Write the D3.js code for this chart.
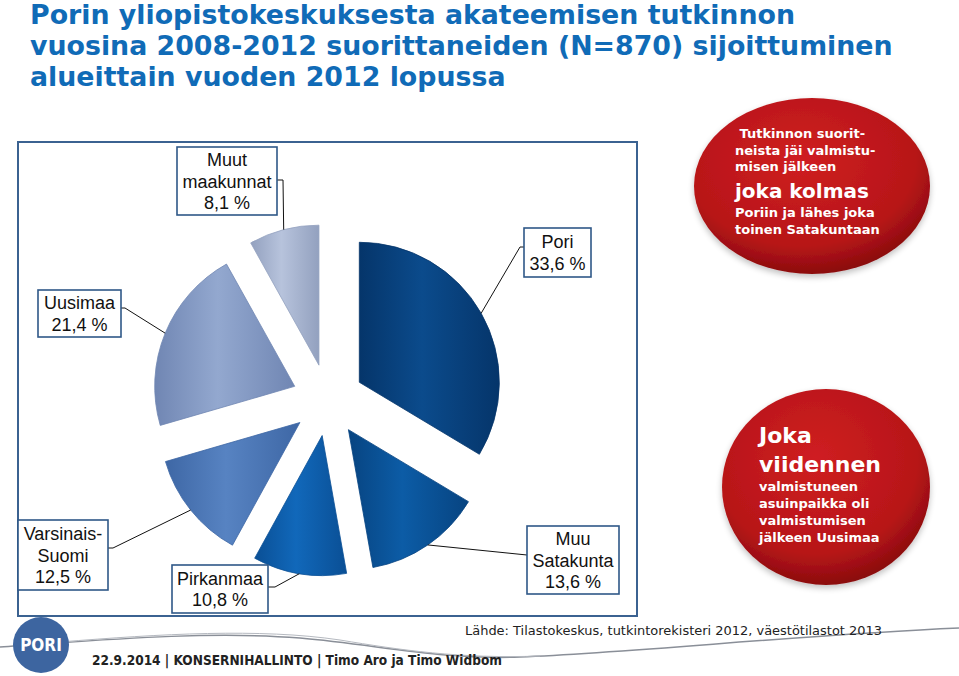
<!DOCTYPE html>
<html><head><meta charset="utf-8">
<script src="https://cdn.jsdelivr.net/npm/d3@7"></script>
<style>body{margin:0;background:#fff;overflow:hidden}</style>
</head><body><svg id="c" width="959" height="676"></svg>
<script>
// ---- data ----
const categories = ["Pori", "Muu Satakunta", "Pirkanmaa", "Varsinais-Suomi", "Uusimaa", "Muut maakunnat"];
const values = [33.6, 13.6, 10.8, 12.5, 21.4, 8.1];
const nameLines = [["Pori"], ["Muu", "Satakunta"], ["Pirkanmaa"], ["Varsinais-", "Suomi"], ["Uusimaa"], ["Muut", "maakunnat"]];
const titleLines = ["Porin yliopistokeskuksesta akateemisen tutkinnon",
  "vuosina 2008-2012 suorittaneiden (N=870) sijoittuminen",
  "alueittain vuoden 2012 lopussa"];
const bubble1 = [" Tutkinnon suorit-", "neista jäi valmistu-", "misen jälkeen", "joka kolmas", "Poriin ja lähes joka", "toinen Satakuntaan"];
const bubble2 = ["Joka", "viidennen", "valmistuneen", "asuinpaikka oli", "valmistumisen", "jälkeen Uusimaa"];
const sourceText = "Lähde: Tilastokeskus, tutkintorekisteri 2012, väestötilastot 2013";
const footerText = "22.9.2014 | KONSERNIHALLINTO | Timo Aro ja Timo Widbom";

// ---- styles / layout ----
const sliceColors = [["#05356a", "#0b4b8c"], ["#074481", "#0c5ca6"], ["#0a4f95", "#1168ba"],
  ["#3e67a5", "#5783c2"], ["#7086b3", "#93a8cf"], ["#93a1bf", "#b7c3dc"]];
const labelBoxes = [
  {x: 524, y: 228, w: 67, h: 49, via: [520, 247], end: [524, 247]},
  {x: 527, y: 526, w: 92, h: 68, via: [527, 555], end: [527, 555]},
  {x: 172, y: 565, w: 96, h: 48, via: [275, 587], end: [268, 587]},
  {x: 18, y: 520, w: 90, h: 70, via: [113, 548], end: [108, 548]},
  {x: 38, y: 290, w: 83, h: 47, via: [125, 308], end: [121, 308]},
  {x: 177, y: 147, w: 100, h: 68, via: [283, 180], end: [277, 180]}
];
const fmt = v => d3.format(".1f")(v).replace(".", ",") + " %";

const svg = d3.select("#c");
const defs = svg.append("defs");

// title
const title = svg.append("g").attr("font-family", "DejaVu Sans, Verdana, sans-serif")
  .attr("font-weight", "bold").attr("fill", "#106bb7");
const tt = title.selectAll("text").data(titleLines).join("text")
  .attr("x", 30).attr("y", (d, i) => 24 + i * 31).attr("font-size", 26).text(d => d);
const w0 = tt.nodes()[1].getComputedTextLength();
const fs = 26 * (893 - 30) / w0;
tt.attr("font-size", fs);

// chart frame
svg.append("rect").attr("x", 18).attr("y", 142).attr("width", 619).attr("height", 474)
  .attr("fill", "none").attr("stroke", "#3b6291").attr("stroke-width", 2);

// pie
const cx = 328, cy = 400, R = 140, explode = 36;
const pie = d3.pie().sort(null).value(d => d);
const arcs = pie(values);
const arc = d3.arc().innerRadius(0).outerRadius(R);
const outerPt = d3.arc().innerRadius(R).outerRadius(R);

arcs.forEach((a, i) => {
  const g = defs.append("linearGradient").attr("id", "g" + i).attr("x1", 0).attr("x2", 1).attr("y1", 0).attr("y2", 0);
  g.append("stop").attr("offset", 0).attr("stop-color", sliceColors[i][0]);
  g.append("stop").attr("offset", 0.45).attr("stop-color", sliceColors[i][1]);
  g.append("stop").attr("offset", 1).attr("stop-color", sliceColors[i][0]);
});

const off = a => { const m = (a.startAngle + a.endAngle) / 2; return [Math.sin(m) * explode, -Math.cos(m) * explode]; };
const pg = svg.append("g").attr("transform", `translate(${cx},${cy})`);
pg.selectAll("path").data(arcs).join("path")
  .attr("transform", d => `translate(${off(d)})`)
  .attr("d", arc)
  .attr("fill", (d, i) => `url(#g${i})`)
  .attr("stroke", (d, i) => sliceColors[i][0]).attr("stroke-width", 0.8);

// leader lines and label boxes
const lab = svg.append("g");
arcs.forEach((a, i) => {
  const o = off(a), c = outerPt.centroid(a);
  const p = [cx + o[0] + c[0], cy + o[1] + c[1]];
  const b = labelBoxes[i];
  lab.append("polyline").attr("points", [p, b.via, b.end].map(q => q.join(",")).join(" "))
    .attr("fill", "none").attr("stroke", "#111").attr("stroke-width", 1);
  lab.append("rect").attr("x", b.x).attr("y", b.y).attr("width", b.w).attr("height", b.h)
    .attr("fill", "#fff").attr("stroke", "#2f5888").attr("stroke-width", 1.6);
  const lines = nameLines[i].concat([fmt(values[i])]);
  const t = lab.append("text").attr("font-family", "Liberation Sans, Arial, sans-serif")
    .attr("font-size", 18).attr("fill", "#111").attr("text-anchor", "middle");
  const lh = 21.5, top = b.y + b.h / 2 - (lines.length - 1) * lh / 2 + 6.5;
  lines.forEach((l, k) => t.append("tspan").attr("x", b.x + b.w / 2).attr("y", top + k * lh).text(l));
});

// red bubbles
const rg = defs.append("radialGradient").attr("id", "red").attr("cx", 0.45).attr("cy", 0.35).attr("r", 0.7);
rg.append("stop").attr("offset", 0).attr("stop-color", "#cf1f21");
rg.append("stop").attr("offset", 0.7).attr("stop-color", "#b71518");
rg.append("stop").attr("offset", 1).attr("stop-color", "#7e090b");
const sh = defs.append("filter").attr("id", "sh").attr("x", -0.2).attr("y", -0.2).attr("width", 1.4).attr("height", 1.5);
sh.append("feGaussianBlur").attr("in", "SourceAlpha").attr("stdDeviation", 3);
sh.append("feOffset").attr("dy", 3).attr("result", "b");
sh.append("feComponentTransfer").append("feFuncA").attr("type", "linear").attr("slope", 0.25);
const mg = sh.append("feMerge"); mg.append("feMergeNode"); mg.append("feMergeNode").attr("in", "SourceGraphic");

svg.append("ellipse").attr("cx", 812).attr("cy", 186).attr("rx", 118).attr("ry", 88)
  .attr("fill", "url(#red)").attr("filter", "url(#sh)");
svg.append("ellipse").attr("cx", 826).attr("cy", 487).attr("rx", 104).attr("ry", 98)
  .attr("fill", "url(#red)").attr("filter", "url(#sh)");

const b1y = [138, 155, 171, 198, 217, 234], b1s = [13, 13, 13, 20, 13, 13];
svg.append("g").attr("font-family", "DejaVu Sans, Verdana, sans-serif").attr("font-weight", "bold").attr("fill", "#fff")
  .selectAll("text").data(bubble1).join("text")
  .attr("x", 735).attr("y", (d, i) => b1y[i]).attr("font-size", (d, i) => b1s[i])
  .attr("xml:space", "preserve").style("white-space", "pre").text(d => d);
const b2y = [443, 472, 491, 508, 525, 542], b2s = [22, 22, 13, 13, 13, 13];
svg.append("g").attr("font-family", "DejaVu Sans, Verdana, sans-serif").attr("font-weight", "bold").attr("fill", "#fff")
  .selectAll("text").data(bubble2).join("text")
  .attr("x", 759).attr("y", (d, i) => b2y[i]).attr("font-size", (d, i) => b2s[i]).text(d => d);

// footer swoosh
svg.append("path").attr("d", "M0,647 C80,642 200,630 300,638 C380,645 440,660 520,657 C640,652 800,635 959,628")
  .attr("fill", "none").attr("stroke", "#8a8f98").attr("stroke-width", 1.5);
svg.append("path").attr("d", "M60,642 C160,634 260,628 340,640 C400,650 460,659 540,656")
  .attr("fill", "none").attr("stroke", "#b5b9c0").attr("stroke-width", 1);

// logo
svg.append("circle").attr("cx", 41).attr("cy", 645).attr("r", 28).attr("fill", "#3d65a0");
svg.append("text").attr("x", 41).attr("y", 651).attr("text-anchor", "middle")
  .attr("font-family", "DejaVu Sans Condensed, Liberation Sans Narrow, sans-serif").attr("font-weight", "bold")
  .attr("font-size", 17).attr("fill", "#fff").text("PORI");

svg.append("text").attr("x", 465).attr("y", 635)
  .attr("font-family", "DejaVu Sans, sans-serif").attr("font-size", 13).attr("fill", "#222")
  .attr("textLength", 417).attr("lengthAdjust", "spacingAndGlyphs").text(sourceText);
svg.append("text").attr("x", 92).attr("y", 665)
  .attr("font-family", "DejaVu Sans Condensed, Liberation Sans Narrow, sans-serif").attr("font-weight", "bold")
  .attr("font-size", 13.5).attr("fill", "#222").attr("textLength", 410).attr("lengthAdjust", "spacingAndGlyphs")
  .text(footerText);
</script></body></html>
